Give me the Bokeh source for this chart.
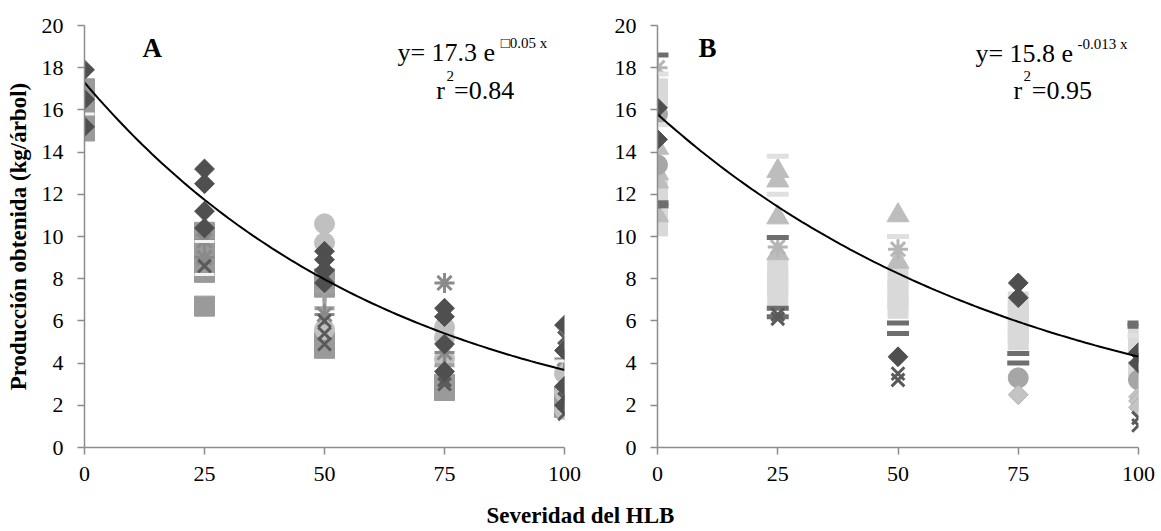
import math
from bokeh.plotting import figure
from bokeh.models import Label, Div, FixedTicker
from bokeh.layouts import row, column
from bokeh.embed import file_html
from bokeh.resources import INLINE

# ---------------- data ----------------
severity_ticks = [0, 25, 50, 75, 100]
y_ticks = [0, 2, 4, 6, 8, 10, 12, 14, 16, 18, 20]

# Panel A series
A_diamond_x = [0, 0, 0, 25, 25, 25, 25, 50, 50, 50, 50, 75, 75, 75, 75, 100, 100, 100, 100]
A_diamond_y = [17.9, 16.5, 15.2, 13.2, 12.5, 11.2, 10.4, 9.3, 8.9, 8.4, 7.8, 6.6, 6.2, 4.9, 3.6, 5.8, 4.6, 2.9, 2.0]
A_square_x = [0, 0, 0, 0, 0, 25, 25, 25, 25, 25, 50, 50, 50, 50, 75, 75, 100, 100]
A_square_y = [17.0, 16.6, 16.0, 15.5, 15.0, 10.2, 9.6, 9.0, 8.3, 6.7, 8.0, 7.6, 5.0, 4.7, 3.0, 2.7, 2.4, 1.9]
A_circle_x = [50, 50, 50, 75, 75, 75, 100, 100, 100]
A_circle_y = [10.6, 9.7, 5.6, 5.7, 5.2, 4.2, 3.5, 2.6, 1.8]
A_xmark_x = [25, 50, 50, 50, 75, 75, 100, 100, 100]
A_xmark_y = [8.6, 6.0, 5.4, 4.9, 3.2, 3.0, 5.2, 2.3, 1.6]
A_star_x = [25, 25, 50, 75, 75, 100]
A_star_y = [9.8, 9.0, 6.3, 7.8, 4.5, 4.2]
A_plus_x = [50, 50, 75]
A_plus_y = [7.4, 6.6, 3.9]
A_dash_x = [0, 25, 25, 100]
A_dash_y = [15.8, 9.76, 8.2, 4.1]

# Panel B series
B_diamond_x = [0, 0, 50, 75, 75, 100, 100]
B_diamond_y = [16.1, 14.6, 4.3, 7.8, 7.1, 4.5, 4.0]
B_square_x = [0, 0, 0, 0, 0, 25, 25, 25, 25, 50, 50, 50, 50, 75, 75, 75, 75, 75, 100, 100, 100]
B_square_y = [17.0, 16.6, 12.2, 10.8, 10.5, 8.5, 8.0, 7.6, 7.2, 8.0, 7.5, 7.0, 6.6, 6.9, 6.4, 5.9, 5.4, 5.1, 5.4, 5.0, 3.6]
B_triangle_x = [0, 0, 0, 0, 25, 25, 25, 25, 50, 50]
B_triangle_y = [14.2, 13.0, 12.6, 11.0, 13.1, 12.65, 10.9, 9.2, 11.0, 8.8]
B_circle_x = [0, 0, 75, 100]
B_circle_y = [15.8, 13.4, 3.3, 3.2]
B_dash_dark_x = [0, 0, 0, 25, 25, 25, 50, 50, 75, 75, 100, 100]
B_dash_dark_y = [18.6, 11.6, 11.45, 9.95, 6.6, 6.2, 5.9, 5.4, 4.45, 4.0, 5.9, 5.75]
B_dash_light_x = [0, 0, 25, 25, 50, 100]
B_dash_light_y = [17.7, 15.3, 13.8, 12.0, 10.0, 5.3]
B_xmark_x = [25, 25, 50, 50, 100, 100]
B_xmark_y = [6.3, 6.1, 3.5, 3.2, 1.4, 1.05]
B_star_x = [0, 25, 50]
B_star_y = [18.0, 9.5, 9.4]
B_ldiamond_x = [75, 100, 100, 100]
B_ldiamond_y = [2.5, 2.4, 2.2, 1.9]

# exponential trend lines y = a * exp(-b x)
A_coef = [17.3, 0.0155]
B_coef = [15.8, 0.013]

SERIF = "Liberation Serif"


def make_fig(width, left, right):
    p = figure(width=width, height=500, x_range=(0, 100), y_range=(0, 20),
               output_backend="svg", toolbar_location=None,
               min_border_left=left, min_border_right=right,
               min_border_top=25, min_border_bottom=53)
    p.outline_line_color = None
    p.grid.visible = False
    p.background_fill_color = "white"
    p.border_fill_color = "white"
    for ax in (p.xaxis[0], p.yaxis[0]):
        ax.axis_line_color = "#8c8c8c"
        ax.axis_line_width = 1.5
        ax.major_tick_line_color = "#8c8c8c"
        ax.major_tick_line_width = 1.5
        ax.major_tick_out = 7
        ax.major_tick_in = 0
        ax.minor_tick_line_color = None
        ax.major_label_text_font = SERIF
        ax.major_label_text_font_size = "22px"
        ax.major_label_text_color = "black"
    p.xaxis.ticker = FixedTicker(ticks=severity_ticks)
    p.yaxis.ticker = FixedTicker(ticks=y_ticks)
    p.xaxis.major_label_standoff = 12
    p.yaxis.major_label_standoff = 14
    return p


def draw_curve(p, coef):
    xs = [i for i in range(0, 101)]
    ys = [coef[0] * math.exp(-coef[1] * x) for x in xs]
    p.line(xs, ys, line_color="black", line_width=2)


def sq_diamond(p, xs, ys, color):
    p.scatter(xs, ys, marker="square", angle=math.pi / 4, size=14,
              fill_color=color, line_color=color)


def txt(p, x, y, s, size, bold=False):
    p.add_layout(Label(x=x, y=y, text=s, text_font=SERIF, text_font_size=size,
                       text_font_style="bold" if bold else "normal",
                       text_color="black", text_baseline="alphabetic"))


# ---------------- panel A ----------------
pA = make_fig(600, 84, 36)
pA.yaxis.axis_label = "Producción obtenida (kg/árbol)"
pA.yaxis.axis_label_text_font = SERIF
pA.yaxis.axis_label_text_font_style = "bold"
pA.yaxis.axis_label_text_font_size = "23px"
pA.yaxis.axis_label_text_color = "black"
pA.yaxis.axis_label_standoff = 8

pA.scatter(A_square_x, A_square_y, marker="square", size=20, fill_color="#9a9a9a", line_color="#9a9a9a")
pA.scatter(A_circle_x, A_circle_y, marker="circle", size=20, fill_color="#c0c0c0", line_color="#c0c0c0")
pA.scatter(A_plus_x, A_plus_y, marker="cross", size=20, line_color="#a0a0a0", line_width=4)
pA.scatter(A_star_x, A_star_y, marker="asterisk", size=20, line_color="#8a8a8a", line_width=3)
pA.scatter(A_xmark_x, A_xmark_y, marker="x", size=18, line_color="#5a5a5a", line_width=3)
sq_diamond(pA, A_diamond_x, A_diamond_y, "#4f4f4f")
pA.scatter(A_dash_x, A_dash_y, marker="dash", size=20, line_color="#f2f2f2", line_width=3)
draw_curve(pA, A_coef)

txt(pA, 12.1, 18.93, "A", "27px", bold=True)
txt(pA, 65.2, 18.72, "y= 17.3 e", "26px")
txt(pA, 86.7, 19.15, "\u25a10.05 x", "15px")
txt(pA, 73.3, 16.9, "r", "26px")
txt(pA, 75.4, 17.62, "2", "15px")
txt(pA, 77.0, 16.9, "=0.84", "26px")

# ---------------- panel B ----------------
pB = make_fig(561, 57, 23)

pB.scatter(B_square_x, B_square_y, marker="square", size=20, fill_color="#d9d9d9", line_color="#d9d9d9")
pB.scatter(B_triangle_x, B_triangle_y, marker="triangle", size=22, fill_color="#bdbdbd", line_color="#bdbdbd")
pB.scatter(B_circle_x, B_circle_y, marker="circle", size=20, fill_color="#a6a6a6", line_color="#a6a6a6")
pB.scatter(B_ldiamond_x, B_ldiamond_y, marker="square", angle=math.pi / 4, size=14,
           fill_color="#c4c4c4", line_color="#b0b0b0")
pB.scatter(B_star_x, B_star_y, marker="asterisk", size=20, line_color="#b5b5b5", line_width=3)
pB.scatter(B_dash_light_x, B_dash_light_y, marker="dash", size=22, line_color="#e0e0e0", line_width=5)
pB.scatter(B_dash_dark_x, B_dash_dark_y, marker="dash", size=22, line_color="#6e6e6e", line_width=5)
pB.scatter(B_xmark_x, B_xmark_y, marker="x", size=18, line_color="#5a5a5a", line_width=3)
sq_diamond(pB, B_diamond_x, B_diamond_y, "#4f4f4f")
draw_curve(pB, B_coef)

txt(pB, 8.5, 18.93, "B", "27px", bold=True)
txt(pB, 66.1, 18.68, "y= 15.8 e", "26px")
txt(pB, 87.3, 19.1, "-0.013 x", "15px")
txt(pB, 74.0, 16.9, "r", "26px")
txt(pB, 76.1, 17.62, "2", "15px")
txt(pB, 77.8, 16.9, "=0.95", "26px")

title = Div(text='<div style="width:1161px;text-align:center;font-family:\'Liberation Serif\';'
                 'font-weight:bold;font-size:23px;line-height:31px;color:black;">Severidad del HLB</div>',
            width=1161, height=31, margin=(0, 0, 0, 0))

layout = column(row(pA, pB, spacing=0), title, spacing=0)

open("out.html", "w").write(file_html(layout, INLINE))
